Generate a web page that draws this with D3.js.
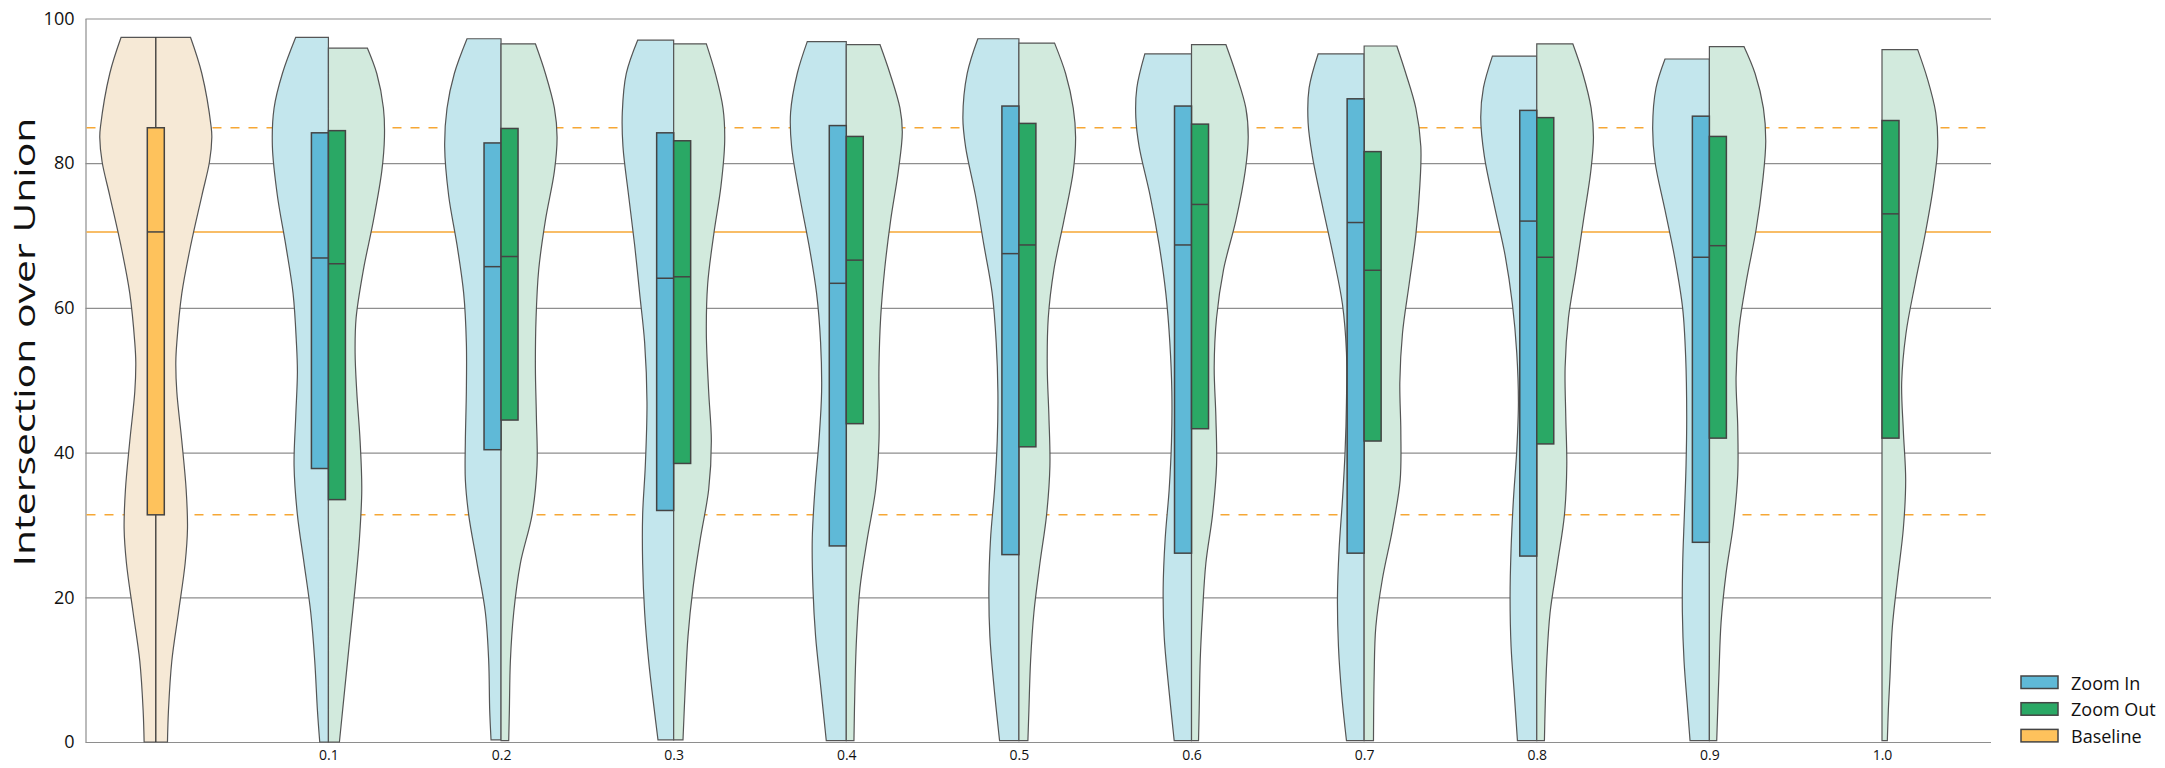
<!DOCTYPE html>
<html>
<head>
<meta charset="utf-8">
<script src="https://cdn.jsdelivr.net/npm/d3@7"></script>
<style>
  html, body { margin: 0; padding: 0; background: #fff; }
  svg { display: block; font-family: "Open Sans", "Noto Sans", sans-serif; }
</style>
</head>
<body>
<svg id="chart" width="2165" height="768"></svg>
<script>
// ---------------- DATA ----------------
const categories = ["", "0.1", "0.2", "0.3", "0.4", "0.5", "0.6", "0.7", "0.8", "0.9", "1.0"];
const yTicks = [0, 20, 40, 60, 80, 100];
const legendLabels = ["Zoom In", "Zoom Out", "Baseline"];
const yTitle = "Intersection over Union";

// Baseline (category "") – kernel density outline, [IoU value, relative density]
const baselineDensity = [[0,35],[4.4,38],[11.2,48],[17.9,68],[24.7,88],[29.5,95],[34.9,91],[41.6,78],[48.4,63],[52.5,60],[55.2,63],[62,78],[68.7,105],[75.5,138],[80.2,161],[83.6,168],[85,166],[92.4,138],[97.4,104]];
const baselineStats = { min: 0, q1: 31.4, median: 70.5, q3: 84.9, max: 97.4 };

// Zoom In densities for 0.1 ... 0.9 (no data at 1.0)
const zoomInDensity = [
  [[0,26],[4.4,33],[11.2,41],[17.9,53],[24.7,73],[31.4,93],[38.2,103],[45,98],[51.1,93],[55.2,96],[62,106],[68.7,128],[75.5,153],[82.3,168],[87.6,163],[92.4,138],[97.4,98]],
  [[0.3,30],[4.4,34],[11.2,37],[17.9,47],[24.7,72],[31.4,97],[36.2,107],[41.6,107],[48.4,104],[55.2,104],[62,112],[68.7,132],[75.5,157],[82.3,169],[87.6,162],[92.4,140],[97.2,102]],
  [[0.3,47],[4.4,58],[11.2,75],[17.9,87],[24.7,93],[31.4,93],[38.2,85],[47,80],[55.2,87],[62,102],[68.7,117],[75.5,135],[82.3,152],[87,154],[92.4,142],[97,108]],
  [[0.2,60],[7.8,77],[14.6,92],[21.3,100],[28.1,102],[34.9,94],[41.6,82],[48.4,74],[55.2,77],[62,89],[68.7,112],[75.5,140],[82.3,164],[87,167],[92.4,147],[96.8,117]],
  [[0.2,58],[7.8,75],[14.6,87],[21.3,90],[28.1,85],[34.9,73],[41.6,65],[48.4,63],[55.2,68],[62,80],[68.7,105],[75.5,130],[82.3,160],[86.3,168],[92.4,155],[97.2,123]],
  [[0.2,52],[7.8,69],[14.6,82],[21.3,85],[28.1,79],[34.9,67],[41.6,60],[48.4,59],[55.2,65],[62,77],[68.7,97],[75.5,124],[82.3,157],[86.3,167],[90.4,164],[95.1,140]],
  [[0.2,53],[6.4,67],[13.2,77],[20,80],[26.7,75],[33.5,65],[40.3,57],[47,53],[53.8,53],[60.5,65],[67.3,93],[74.1,125],[80.9,155],[85.6,168],[90.4,165],[95.1,138]],
  [[0.2,58],[6.4,67],[13.2,77],[20,80],[26.7,77],[33.5,70],[40.3,60],[47,55],[53.8,60],[60.5,73],[67.3,95],[74.1,127],[80.9,157],[86.3,168],[90.4,160],[94.8,133]],
  [[0.2,58],[4.4,65],[11.2,76],[17.9,81],[24.7,80],[31.4,75],[38.2,70],[45,68],[53.1,71],[59.9,80],[66.7,103],[73.5,133],[80.2,163],[85,170],[90.4,160],[94.4,133]],
  null
];
// Zoom Out densities for 0.1 ... 1.0
const zoomOutDensity = [
  [[0,33],[7.8,50],[14.6,65],[21.3,80],[28.1,93],[34.9,100],[41.6,95],[48.4,85],[53.8,80],[58.6,83],[65.3,105],[72.1,135],[78.9,160],[83.6,168],[87.6,165],[92.4,145],[95.9,117]],
  [[0.2,23],[4.4,25],[11.2,28],[17.9,38],[24.7,58],[31.4,93],[38.2,108],[45,106],[51.8,103],[58.6,105],[65.3,113],[72.1,133],[78.9,160],[83.6,168],[87.6,160],[92.4,133],[96.5,103]],
  [[0.3,28],[7.8,35],[14.6,43],[21.3,58],[28.1,80],[34.9,105],[41.6,113],[48.4,105],[56.5,98],[63.3,102],[70.1,120],[76.9,142],[83,153],[87.6,148],[92.4,125],[96.5,98]],
  [[0.2,23],[7.8,26],[14.6,31],[21.3,41],[28.1,63],[34.9,88],[41.6,98],[51.8,98],[58.6,103],[65.3,115],[72.1,133],[78.9,156],[84.3,168],[87.6,161],[92.4,131],[96.4,101]],
  [[0.2,27],[4.4,30],[11.2,35],[17.9,45],[24.7,63],[31.4,83],[38.2,93],[45,90],[51.8,85],[58.6,88],[65.3,105],[72.1,135],[78.9,163],[83.6,170],[87.6,163],[92.4,140],[96.6,107]],
  [[0.2,21],[4.4,23],[11.2,26],[17.9,33],[24.7,43],[31.4,63],[38.2,75],[45,73],[51.8,68],[58.6,75],[65.3,96],[72.1,133],[78.9,161],[83.6,170],[87.6,163],[92.4,133],[96.4,103]],
  [[0.2,28],[9.1,30],[15.9,35],[22.6,55],[29.4,85],[36.2,108],[43,110],[49.7,107],[56.5,115],[63.3,135],[70.1,155],[76.9,167],[82.3,170],[87.6,155],[92.4,125],[96.2,98]],
  [[0.2,23],[4.4,25],[11.2,30],[17.9,40],[24.7,62],[31.4,83],[38.2,90],[45,87],[51.8,85],[58.6,95],[65.3,118],[72.1,140],[78.9,162],[83.6,170],[87.6,163],[92.4,138],[96.5,108]],
  [[0.2,22],[9.8,29],[16.5,35],[23.3,50],[30.1,72],[36.9,85],[43.6,85],[50.4,80],[57.2,89],[64,112],[70.8,140],[77.6,160],[83,169],[87.6,162],[92.4,137],[96.1,104]],
  [[0.2,16],[4.4,19],[9.1,24],[15.9,31],[22.7,47],[29.5,64],[36.2,71],[43,64],[49.7,59],[56.5,72],[63.3,99],[70.1,129],[76.8,154],[82.3,167],[87,161],[91.7,136],[95.7,107]]
];

// Box statistics for 0.1 ... 1.0
const zoomInQ1     = [37.8, 40.4, 32.0, 27.1, 25.9, 26.1, 26.1, 25.7, 27.6, null];
const zoomInMedian = [66.9, 65.7, 64.1, 63.4, 67.5, 68.7, 71.8, 72.0, 67.0, null];
const zoomInQ3     = [84.2, 82.8, 84.2, 85.2, 87.9, 87.9, 88.9, 87.3, 86.5, null];
const zoomOutQ1     = [33.5, 44.5, 38.5, 44.0, 40.8, 43.3, 41.6, 41.2, 42.0, 42.0];
const zoomOutMedian = [66.1, 67.1, 64.3, 66.6, 68.7, 74.3, 65.2, 67.0, 68.6, 73.0];
const zoomOutQ3     = [84.5, 84.8, 83.1, 83.7, 85.5, 85.4, 81.6, 86.3, 83.7, 85.9];

// ---------------- LAYOUT / STYLE ----------------
const W = 2165, H = 768;
const plot = { left: 85.5, right: 1991, top: 18.5, bottom: 742 };
const colors = {
  inViolin: "#C3E6ED", inBox: "#5FB9D7",
  outViolin: "#D2EADD", outBox: "#2AA865",
  baseViolin: "#F6E9D6", baseBox: "#FEC25C",
  ref: "#F6A735", grid: "#8E8E8E", outline: "#555555", boxStroke: "#444444"
};

const svg = d3.select("#chart");
svg.append("rect").attr("width", W).attr("height", H).attr("fill", "#fff");

const y = d3.scaleLinear().domain([0, 100]).range([plot.bottom, plot.top]);
const x = d3.scalePoint().domain(categories).range([plot.left + 70.3, plot.right - 109]);
const wScale = d3.scaleLinear().domain([0, 170]).range([0, 56.7]);
const boxW = 17;

// Y axis with gridlines
const yAxis = svg.append("g")
  .attr("transform", `translate(${plot.left},0)`)
  .call(d3.axisLeft(y).tickValues(yTicks).tickFormat(d3.format("d"))
        .tickSize(-(plot.right - plot.left)).tickSizeOuter(0).tickPadding(11));
yAxis.select(".domain").attr("stroke", colors.grid).attr("stroke-width", 1.2);
yAxis.selectAll(".tick line").attr("stroke", colors.grid).attr("stroke-width", 1.2);
yAxis.selectAll(".tick text").attr("font-size", 18).attr("fill", "#111")
  .attr("font-family", '"Open Sans", sans-serif');

// X axis labels
const xAxis = svg.append("g")
  .attr("transform", `translate(0,${plot.bottom})`)
  .call(d3.axisBottom(x).tickSize(0).tickPadding(8));
xAxis.select(".domain").remove();
xAxis.selectAll(".tick text").attr("font-size", 14).attr("fill", "#111")
  .attr("font-family", '"Open Sans", sans-serif');

// Baseline reference lines (Q1, median, Q3)
const refs = [
  { v: baselineStats.q3, dash: "9,9" },
  { v: baselineStats.median, dash: null },
  { v: baselineStats.q1, dash: "9,9" }
];
svg.append("g").selectAll("line").data(refs).join("line")
  .attr("x1", plot.left + 1).attr("x2", plot.right)
  .attr("y1", d => y(d.v)).attr("y2", d => y(d.v))
  .attr("stroke", colors.ref).attr("stroke-width", 1.4)
  .attr("stroke-dasharray", d => d.dash);

// Violin helpers
function violinArea(center, side) {
  return d3.area()
    .curve(d3.curveCatmullRom.alpha(0.5))
    .y(d => y(d[0]))
    .x0(d => side === 0 ? center - wScale(d[1]) : center)
    .x1(d => side < 0 ? center - wScale(d[1]) : center + wScale(d[1]));
}
const gV = svg.append("g");

// Baseline violin
const cBase = x(categories[0]);
gV.append("path").datum(baselineDensity)
  .attr("d", violinArea(cBase, 0))
  .attr("fill", colors.baseViolin).attr("stroke", colors.outline).attr("stroke-width", 1.2);
gV.append("line")
  .attr("x1", cBase).attr("x2", cBase)
  .attr("y1", y(baselineStats.min)).attr("y2", y(baselineStats.max))
  .attr("stroke", "#333").attr("stroke-width", 1.3);
gV.append("rect")
  .attr("x", cBase - boxW / 2).attr("width", boxW)
  .attr("y", y(baselineStats.q3)).attr("height", y(baselineStats.q1) - y(baselineStats.q3))
  .attr("fill", colors.baseBox).attr("stroke", colors.boxStroke).attr("stroke-width", 1.5);
gV.append("line")
  .attr("x1", cBase - boxW / 2).attr("x2", cBase + boxW / 2)
  .attr("y1", y(baselineStats.median)).attr("y2", y(baselineStats.median))
  .attr("stroke", colors.boxStroke).attr("stroke-width", 1.5);

// Split violins
categories.slice(1).forEach((cat, i) => {
  const c = x(cat);
  if (zoomInDensity[i]) {
    gV.append("path").datum(zoomInDensity[i])
      .attr("d", violinArea(c, -1))
      .attr("fill", colors.inViolin).attr("stroke", colors.outline).attr("stroke-width", 1.2);
  }
  if (zoomOutDensity[i]) {
    gV.append("path").datum(zoomOutDensity[i])
      .attr("d", violinArea(c, 1))
      .attr("fill", colors.outViolin).attr("stroke", colors.outline).attr("stroke-width", 1.2);
  }
});
categories.slice(1).forEach((cat, i) => {
  const c = x(cat);
  if (zoomInQ1[i] != null) {
    gV.append("rect")
      .attr("x", c - boxW).attr("width", boxW)
      .attr("y", y(zoomInQ3[i])).attr("height", y(zoomInQ1[i]) - y(zoomInQ3[i]))
      .attr("fill", colors.inBox).attr("stroke", colors.boxStroke).attr("stroke-width", 1.5);
    gV.append("line")
      .attr("x1", c - boxW).attr("x2", c)
      .attr("y1", y(zoomInMedian[i])).attr("y2", y(zoomInMedian[i]))
      .attr("stroke", colors.boxStroke).attr("stroke-width", 1.5);
  }
  if (zoomOutQ1[i] != null) {
    gV.append("rect")
      .attr("x", c).attr("width", boxW)
      .attr("y", y(zoomOutQ3[i])).attr("height", y(zoomOutQ1[i]) - y(zoomOutQ3[i]))
      .attr("fill", colors.outBox).attr("stroke", colors.boxStroke).attr("stroke-width", 1.5);
    gV.append("line")
      .attr("x1", c).attr("x2", c + boxW)
      .attr("y1", y(zoomOutMedian[i])).attr("y2", y(zoomOutMedian[i]))
      .attr("stroke", colors.boxStroke).attr("stroke-width", 1.5);
  }
});

// Y title
const title = svg.append("text")
  .attr("transform", "translate(35,342) rotate(-90)")
  .attr("text-anchor", "middle")
  .attr("font-size", 30).attr("fill", "#111")
  .attr("font-family", '"Open Sans", sans-serif')
  .text(yTitle);
const tl = title.node().getComputedTextLength();
if (Math.abs(tl - 449) > 4) {
  title.attr("textLength", 449).attr("lengthAdjust", "spacingAndGlyphs");
}

// Legend
const legendFill = [colors.inBox, colors.outBox, colors.baseBox];
const lg = svg.append("g").attr("transform", "translate(2021,676)");
legendLabels.forEach((lab, i) => {
  const row = lg.append("g").attr("transform", `translate(0,${i * 26.7})`);
  row.append("rect").attr("width", 37).attr("height", 12.5)
    .attr("fill", legendFill[i]).attr("stroke", colors.boxStroke).attr("stroke-width", 1.5);
  row.append("text").attr("x", 50).attr("y", 13.5)
    .attr("font-size", 18).attr("fill", "#111")
    .attr("font-family", '"Open Sans", sans-serif')
    .text(lab);
});
</script>
</body>
</html>
